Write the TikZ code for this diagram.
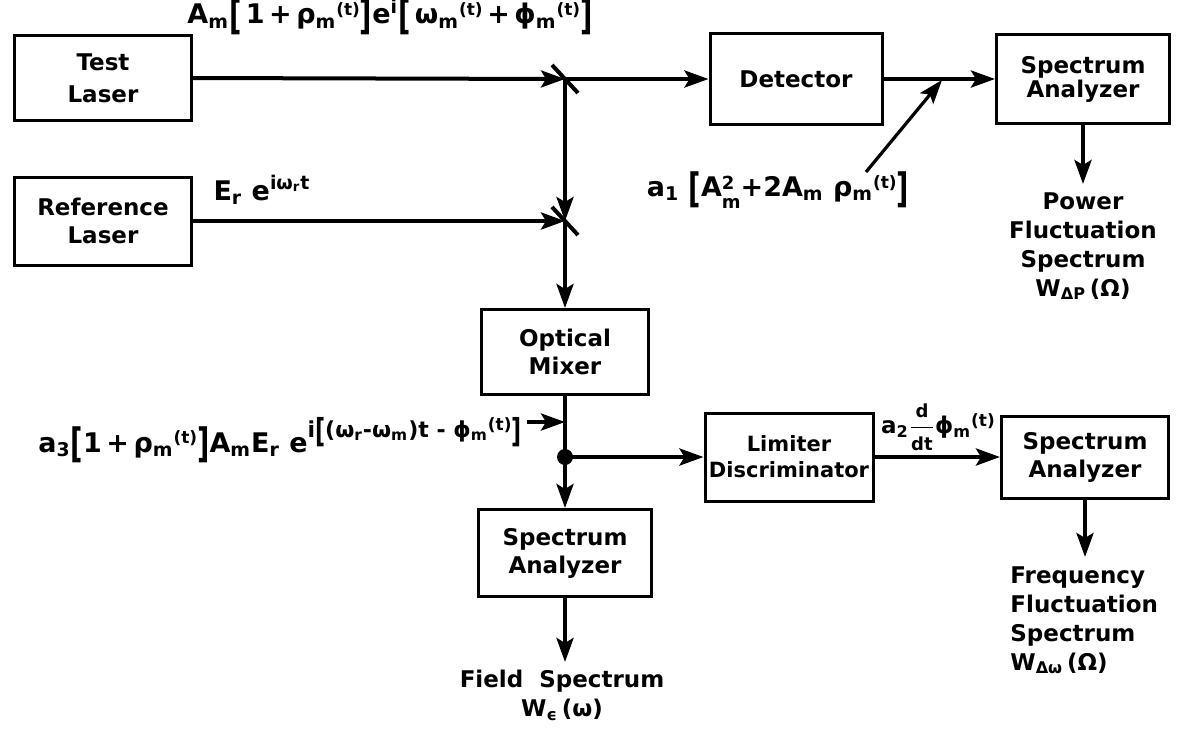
\documentclass[tikz,border=0pt]{standalone}
\usepackage{fontspec}
\setmainfont{DejaVu Sans}
\usepackage{graphicx}
\usepackage{amsmath}
\usetikzlibrary{arrows.meta}
\newcommand{\lo}[1]{\textsubscript{#1}}
\newcommand{\up}[1]{\textsuperscript{#1}}
\newcommand{\lbk}{\raisebox{-0.22em}{\scalebox{1}[1.5]{[}}}
\newcommand{\rbk}{\raisebox{-0.22em}{\scalebox{1}[1.5]{]}}}
\newcommand{\tup}[1]{\raisebox{0.55ex}{\fontsize{8.5}{8.5}\selectfont #1}}
\tikzset{
  box/.style={draw, line width=1.5pt, inner sep=0pt, align=center,
    font=\bfseries\fontsize{11.5}{14}\selectfont},
  tip/.style={-{Stealth[length=12pt,width=8.5pt,inset=2.5pt]}},
  flow/.style={line width=2pt, tip},
  plain/.style={line width=2pt},
  lab/.style={font=\bfseries\fontsize{13.5}{16}\selectfont, inner sep=0pt},
  outlab/.style={font=\bfseries\fontsize{11.5}{14.5}\selectfont, inner sep=0pt},
}
\begin{document}
\begin{tikzpicture}[x=0.5pt,y=-0.5pt]
\useasboundingbox (0,0) rectangle (1179,730);
% boxes
\node[box, minimum width=88.5pt, minimum height=42.5pt] (tl) at (103,78) {Test\\[2pt]Laser};
\node[box, minimum width=88.5pt, minimum height=44pt] (rl) at (103,221) {Reference\\Laser};
\node[box, minimum width=86pt, minimum height=45.5pt] (det) at (796,79) {Detector};
\node[box, minimum width=86.5pt, minimum height=44.5pt] (sa1) at (1083,79) {Spectrum\\[-2pt]Analyzer};
\node[box, minimum width=83.5pt, minimum height=42.5pt] (om) at (565,352) {Optical\\Mixer};
\node[box, minimum width=84pt, minimum height=44pt, font=\bfseries\fontsize{10.5}{13}\selectfont] (lim) at (789,457) {Limiter\\Discriminator};
\node[box, minimum width=83.5pt, minimum height=41pt] (sa2) at (1085,457) {Spectrum\\Analyzer};
\node[box, minimum width=86.5pt, minimum height=43.5pt] (sa3) at (565,553) {Spectrum\\Analyzer};
% junctions
\coordinate (s1) at (565,79);
\coordinate (s2) at (565,221);
\coordinate (dot) at (565,457);
\coordinate (j1) at (942,80);
\coordinate (a1s) at (866,172);
\coordinate (a3e) at (565,422);
\coordinate (a3s) at (527,422);
\coordinate (p1) at (1083,184);
\coordinate (p2) at (1085,557);
\coordinate (p3) at (565,662);
% connectors
\draw[flow] (tl.east) -- (s1);
\draw[flow] (s1) -- (det.west);
\draw[flow] (s1) -- (s2);
\draw[flow] (rl.east) -- (s2);
\draw[flow] (s2) -- (om.north);
\draw[plain] (s1) ++(-13,-14) -- ++(26,28);
\draw[plain] (s2) ++(-13,-14) -- ++(26,28);
\draw[flow] (det.east) -- (sa1.west);
\draw[line width=1.6pt, tip] (a1s) -- (j1);
\draw[flow] (sa1.south) -- (p1);
\draw[plain] (om.south) -- (dot);
\fill (dot) circle (8);
\draw[flow] (dot) -- (sa3.north);
\draw[flow] (dot) -- (lim.west);
\draw[flow] (a3s) -- (a3e);
\draw[flow] (lim.east) -- (sa2.west);
\draw[flow] (sa2.south) -- (p2);
\draw[flow] (sa3.south) -- (p3);
% labels
\node[lab] (L1) at (390,17) {A\lo{m}\lbk\,1\,+\,ρ\lo{m}\tup{(t)}\rbk e\up{i}\lbk\,ω\lo{m}\tup{(t)}\,+\,ϕ\lo{m}\tup{(t)}\rbk};
\node[lab] (L2) at (262,190) {E\lo{r} e\up{iω\lo{r}t}};
\node[lab] (La1) at (778,190) {a\lo{1} \lbk A\raisebox{-0.8ex}{\fontsize{9}{9}\selectfont\shortstack[l]{2\\[1.5pt]m}}+2A\lo{m} ρ\lo{m}\tup{(t)}\rbk};
\node[lab, anchor=base east] (La3) at (522,452) {a\lo{3}\lbk 1\,+\,ρ\lo{m}\tup{(t)}\rbk A\lo{m}E\lo{r} e\raisebox{1.0ex}{\fontsize{11}{11}\selectfont i\lbk(ω\lo{r}-ω\lo{m})t - ϕ\lo{m}\tup{(t)}\rbk}};
\node[lab, font=\bfseries\fontsize{11.5}{13}\selectfont] (La2) at (938,427) {a\lo{2}$\dfrac{\mbox{\bfseries\fontsize{9}{9}\selectfont d}}{\mbox{\bfseries\fontsize{9}{9}\selectfont dt}}$ϕ\lo{m}\tup{(t)}};
\node[outlab, anchor=north, align=center] (O1) at (1083,192) {Power\\Fluctuation\\Spectrum\\W\lo{ΔP}\,(Ω)};
\node[outlab, anchor=north west, align=left] (O2) at (1010,566) {Frequency\\Fluctuation\\Spectrum\\W\lo{Δω}\,(Ω)};
\node[outlab, anchor=north, align=center] (O3) at (562,670) {Field\ \ Spectrum\\W\lo{ϵ}\,(ω)};
\end{tikzpicture}
\end{document}
